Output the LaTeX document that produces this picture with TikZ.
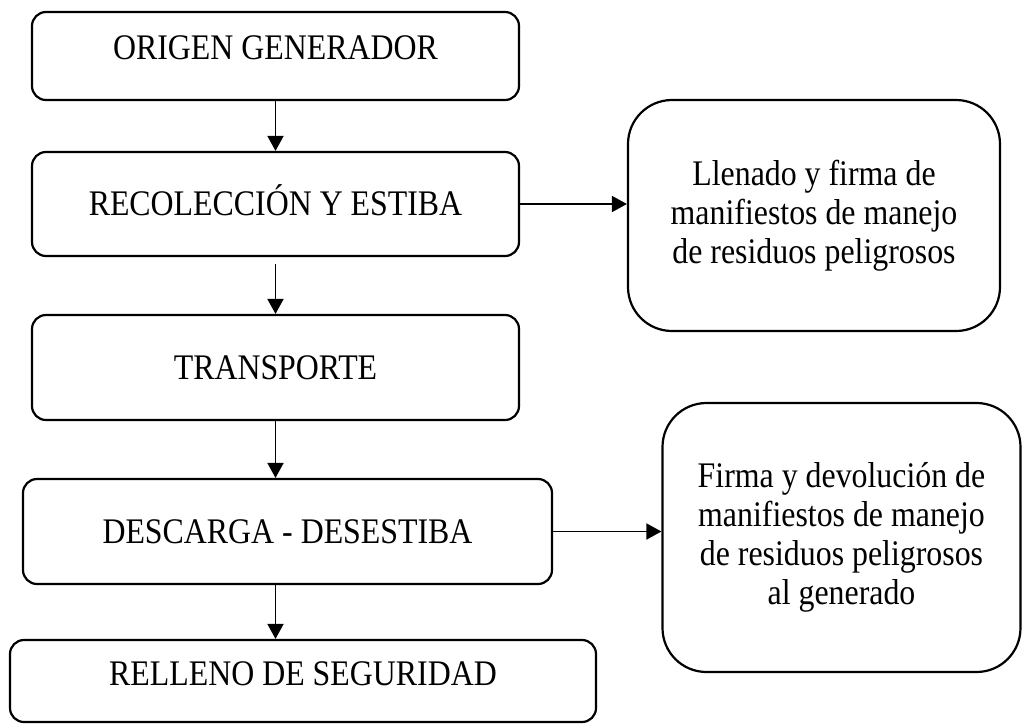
\documentclass[tikz,border=0pt]{standalone}
\usepackage{fontspec}
\setmainfont{Liberation Serif}[FakeStretch=0.885]
\usetikzlibrary{arrows.meta}

\begin{document}
\begin{tikzpicture}[x=0.5pt,y=-0.5pt,
every node/.style={align=center,font=\fontsize{18}{19.4}\selectfont},
stage/.style={draw,line width=1.1pt,rounded corners=7pt,inner sep=0pt,text height=11.9pt,text depth=0pt},
note/.style={draw,line width=1.1pt,rounded corners=22pt,inner sep=0pt},
flow/.style={-{Triangle[length=7.5pt,width=8pt]},line width=0.9pt}
]
\useasboundingbox (0,0) rectangle (1023,724);
% main column
\node[stage,minimum width=243.5pt,minimum height=44pt,text depth=8pt] (origen) at (275.5,56) {ORIGEN GENERADOR};
\node[stage,minimum width=243.5pt,minimum height=52pt] (recoleccion) at (275.5,204) {RECOLECCIÓN Y ESTIBA};
\node[stage,minimum width=243.5pt,minimum height=52.5pt] (transporte) at (275.5,367.5) {TRANSPORTE};
\node[stage,minimum width=264.5pt,minimum height=52.5pt] (descarga) at (287.5,531.5) {DESCARGA - DESESTIBA};
\node[stage,minimum width=293pt,minimum height=41pt,text depth=7pt] (relleno) at (303,681) {RELLENO DE SEGURIDAD};
% side notes
\node[note,minimum width=186pt,minimum height=115.5pt] (llenado) at (814,215.5) {Llenado y firma de\\ manifiestos de manejo\\ de residuos peligrosos};
\node[note,minimum width=179pt,minimum height=134.5pt] (firma) at (841.5,537.5) {Firma y devolución de\\ manifiestos de manejo\\ de residuos peligrosos\\ al generado};
% arrows
\draw[flow] (origen.south) -- (recoleccion.north);
\draw[flow,shorten <=3.5pt] (recoleccion.south) -- (transporte.north);
\draw[flow] (transporte.south) -- (descarga.north -| transporte.south);
\draw[flow] (descarga.south -| origen.south) -- (relleno.north -| origen.south);
\draw[flow] (recoleccion.east) -- (recoleccion.east -| llenado.west); % <- to llenado
\draw[flow] (descarga.east) -- (descarga.east -| firma.west); % <- to firma
\end{tikzpicture}
\end{document}
